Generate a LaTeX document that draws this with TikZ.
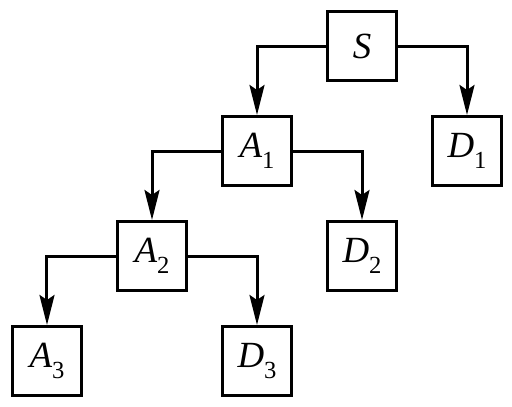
\documentclass[tikz,border=0pt]{standalone}
\usepackage{fontspec}
\setmainfont{Liberation Serif}
\usetikzlibrary{positioning,arrows.meta}

\newcommand{\vlabel}[2]{\textit{#1}\raisebox{-6pt}{\fontsize{14}{16}\selectfont #2}}

\begin{document}
\begin{tikzpicture}[
    >={Stealth[length=0.6cm,width=0.3cm,inset=0.1cm]},
    node distance=2.1cm and 2.1cm, on grid,
    vertex/.style={
        rectangle, draw, line width=0.06cm, minimum size=1.38cm,
        inner sep=0pt, font=\fontsize{21}{24}\selectfont
    },
    edge/.style={->, line width=0.06cm},
]
\useasboundingbox (0,0) rectangle (10.24,-8.14);

% Nodes
\node[vertex] (s) at (7.24,-0.92) {\textit{S}};
\node[vertex, below left=of s] (a1) {\vlabel{A}{1}};
\node[vertex, below right=of s] (d1) {\vlabel{D}{1}};
\node[vertex, below left=of a1] (a2) {\vlabel{A}{2}};
\node[vertex, below right=of a1] (d2) {\vlabel{D}{2}};
\node[vertex, below left=of a2] (a3) {\vlabel{A}{3}};
\node[vertex, below right=of a2] (d3) {\vlabel{D}{3}};

% Edges
\draw[edge] (s.west) -| (a1.north);
\draw[edge] (s.east) -| (d1.north);
\draw[edge] (a1.west) -| (a2.north);
\draw[edge] (a1.east) -| (d2.north);
\draw[edge] (a2.west) -| (a3.north);
\draw[edge] (a2.east) -| (d3.north);

\end{tikzpicture}
\end{document}
